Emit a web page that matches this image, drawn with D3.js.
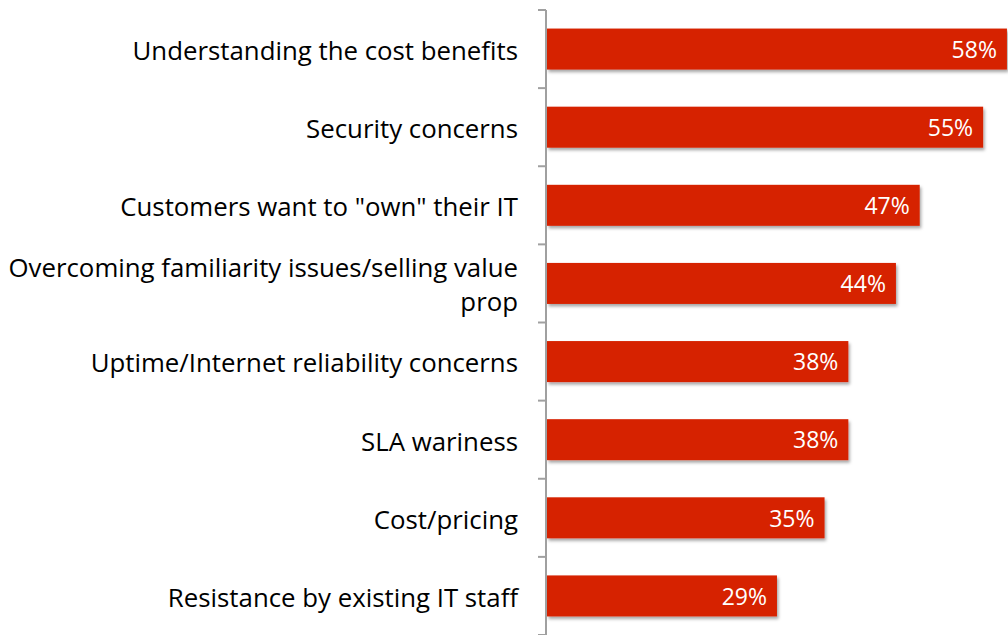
<!DOCTYPE html>
<html>
<head>
<meta charset="utf-8">
<script src="https://cdn.jsdelivr.net/npm/d3@7/dist/d3.min.js"></script>
<style>
  html, body { margin: 0; padding: 0; background: #fff; }
  svg { display: block; }
  text { font-family: "Open Sans", sans-serif; }
</style>
</head>
<body>
<svg id="chart" width="1008" height="635"></svg>
<script>
// Reasons customers hesitate, share of respondents (%)
const categories = [
  "Understanding the cost benefits",
  "Security concerns",
  "Customers want to \"own\" their IT",
  "Overcoming familiarity issues/selling value prop",
  "Uptime/Internet reliability concerns",
  "SLA wariness",
  "Cost/pricing",
  "Resistance by existing IT staff"
];
const values = [58, 55, 47, 44, 38, 38, 35, 29];
// Manual line breaks for long category names
const labelLines = [
  ["Understanding the cost benefits"],
  ["Security concerns"],
  ["Customers want to \"own\" their IT"],
  ["Overcoming familiarity issues/selling value", "prop"],
  ["Uptime/Internet reliability concerns"],
  ["SLA wariness"],
  ["Cost/pricing"],
  ["Resistance by existing IT staff"]
];

const svg = d3.select("#chart");
const axisX = 546;

const x = d3.scaleLinear().domain([0, 60]).range([axisX + 1, axisX + 1 + 60 * 7.93]);
const y = d3.scaleBand().domain(categories).range([10, 635]).paddingInner(0.475).paddingOuter(0.2375);

// soft drop shadow under bars
const defs = svg.append("defs");
const f = defs.append("filter").attr("id", "shadow").attr("x", "-5%").attr("y", "-20%").attr("width", "115%").attr("height", "160%");
f.append("feDropShadow").attr("dx", 1.5).attr("dy", 2.5).attr("stdDeviation", 1.5)
  .attr("flood-color", "#000").attr("flood-opacity", 0.35);

// bars
svg.append("g").selectAll("rect")
  .data(categories)
  .join("rect")
  .attr("x", x(0))
  .attr("y", d => y(d))
  .attr("width", (d, i) => x(values[i]) - x(0))
  .attr("height", y.bandwidth())
  .attr("fill", "#d62100")
  .attr("filter", "url(#shadow)");

// value labels inside bar ends
svg.append("g").selectAll("text")
  .data(categories)
  .join("text")
  .attr("x", (d, i) => x(values[i]) - 10)
  .attr("y", d => y(d) + y.bandwidth() / 2)
  .attr("dy", "0.38em")
  .attr("text-anchor", "end")
  .attr("fill", "#fff")
  .attr("font-size", 23)
  .text((d, i) => values[i] + "%");

// category axis with ticks at band boundaries
const bounds = d3.range(categories.length + 1).map(i => 10 + i * (625 / categories.length));
const axisG = svg.append("g").attr("stroke", "#a0a0a0").attr("stroke-width", 2);
axisG.append("line").attr("x1", axisX).attr("x2", axisX).attr("y1", bounds[0]).attr("y2", 635);
axisG.selectAll("line.tick").data(bounds).join("line").attr("class", "tick")
  .attr("x1", axisX - 8).attr("x2", axisX).attr("y1", d => d).attr("y2", d => d);

// category labels
const lineH = 34;
const labels = svg.append("g").selectAll("text")
  .data(categories)
  .join("text")
  .attr("text-anchor", "end")
  .attr("fill", "#000")
  .attr("font-size", 25.8);
labels.each(function(d, i) {
  const lines = labelLines[i];
  const cy = y(d) + y.bandwidth() / 2;
  const top = cy - (lines.length - 1) * lineH / 2;
  d3.select(this).selectAll("tspan").data(lines).join("tspan")
    .attr("x", 518)
    .attr("y", (l, j) => top + j * lineH)
    .attr("dy", "0.42em")
    .text(l => l);
});
</script>
</body>
</html>
